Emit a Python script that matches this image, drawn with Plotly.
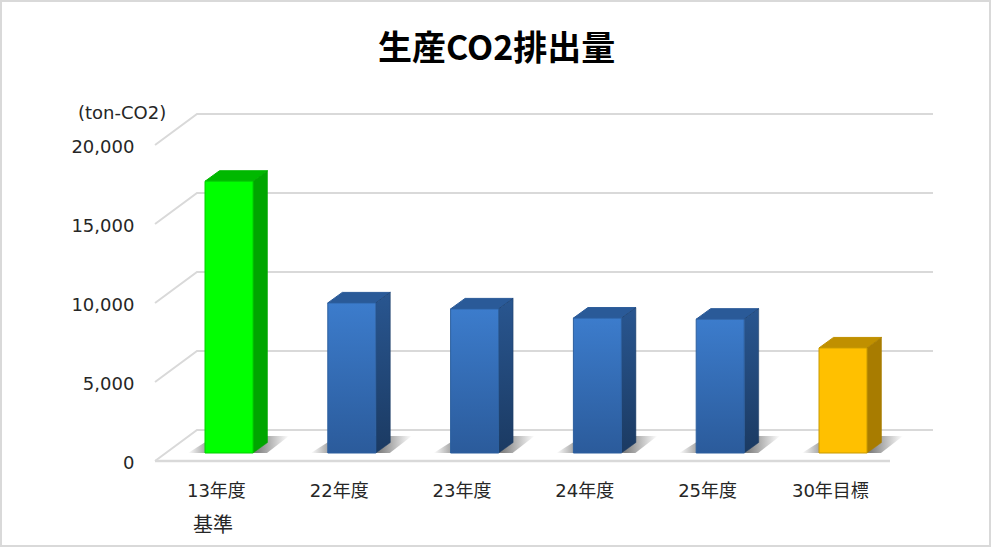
import plotly.graph_objects as go

categories = ["13年度", "22年度", "23年度", "24年度", "25年度", "30年目標"]
values = [17200, 9500, 9120, 8540, 8470, 6650]
y_ticks = [0, 5000, 10000, 15000, 20000]
y_tick_labels = ["0", "5,000", "10,000", "15,000", "20,000"]
title_text = "生産CO2排出量"
unit_text = "(ton-CO2)"
sub_label = "基準"

palette = {
    "green": dict(front=["#00FF00", "#00FF00"], side=["#00A600", "#00A600"], top="#00B800", edge="#00D000"),
    "blue": dict(front=["#3C7CCC", "#2B5B9B"], side=["#295690", "#1B3A62"], top="#2A5A98", edge="#2C5F9E"),
    "amber": dict(front=["#FFC000", "#FFC000"], side=["#A87C00", "#A87C00"], top="#C09000", edge="#C89A00"),
}
bar_colors = ["green", "blue", "blue", "blue", "blue", "amber"]

PX_X = 122.8            # pixels per category
PX_Y = 316 / 20000      # pixels per value unit
FONT = "DejaVu Sans, Noto Sans CJK JP"
TEXT = "#262626"
GRID = "#D9D9D9"

wall_dx = 42 / PX_X
wall_dy = 31 / PX_Y
bar_dx = 14.5 / PX_X
bar_dy = 10.5 / PX_Y
bar_left = 50 / PX_X
bar_w = 48 / PX_X
bar_base = 8 / PX_Y
x_end = 778 / PX_X
floor_end = 735 / PX_X
n = len(categories)

fig = go.Figure()


def poly(xs, ys, **kw):
    fig.add_trace(go.Scatter(x=xs, y=ys, mode="lines", hoverinfo="skip", showlegend=False, **kw))


# walls / gridlines
for v in y_ticks:
    poly([0, wall_dx, x_end], [v, v + wall_dy, v + wall_dy], line=dict(color=GRID, width=2))
poly([0, floor_end], [0, 0], line=dict(color=GRID, width=2.5))

# floor shadows
for i in range(n):
    l = i + bar_left
    xs = [l - 17 / PX_X, l + 62 / PX_X, l + 84 / PX_X, l + 10 / PX_X]
    ys = [bar_base, bar_base, bar_base + 17 / PX_Y, bar_base + 17 / PX_Y]
    poly(xs + xs[:1], ys + ys[:1], fill="toself", line=dict(width=0, color="#FFFFFF"),
         fillgradient=dict(type="horizontal", colorscale=[
             [0, "#FFFFFF"], [0.17, "#A8A8A8"], [0.68, "#808080"], [1, "#FFFFFF"]]))

# bars
for i, (v, c) in enumerate(zip(values, bar_colors)):
    p = palette[c]
    l = i + bar_left
    r = l + bar_w
    bot = bar_base
    top = bar_base + v
    # top face
    poly([l, r, r + bar_dx, l + bar_dx, l], [top, top, top + bar_dy, top + bar_dy, top],
         fill="toself", fillcolor=p["top"], line=dict(color=p["top"], width=1))
    # side face
    poly([r, r + bar_dx, r + bar_dx, r, r], [bot, bot + bar_dy, top + bar_dy, top, bot],
         fill="toself", line=dict(color=p["side"][1], width=0.5),
         fillgradient=dict(type="vertical", colorscale=[[0, p["side"][1]], [1, p["side"][0]]]))
    # front face
    poly([l, r, r, l, l], [bot, bot, top, top, bot],
         fill="toself", line=dict(color=p["edge"], width=1),
         fillgradient=dict(type="vertical", colorscale=[[0, p["front"][1]], [1, p["front"][0]]]))

annotations = [
    dict(text=title_text, xref="paper", yref="paper", x=(496 - 145) / 795, y=(465 - 45.5) / 365,
         xanchor="center", yanchor="middle", showarrow=False,
         font=dict(family="Noto Sans CJK JP", size=34, color="#000000", weight="bold")),
    dict(text=unit_text, xref="paper", yref="paper", x=(122 - 145) / 795, y=(465 - 113) / 365,
         xanchor="center", yanchor="middle", showarrow=False,
         font=dict(family=FONT, size=18, color=TEXT)),
    dict(text=sub_label, xref="x", yref="paper", x=0.47, y=(465 - 525) / 365,
         xanchor="center", yanchor="middle", showarrow=False,
         font=dict(family=FONT, size=20, color=TEXT)),
]

fig.update_layout(
    width=992, height=547,
    margin=dict(l=145, r=52, t=100, b=82),
    paper_bgcolor="#FFFFFF", plot_bgcolor="rgba(0,0,0,0)",
    showlegend=False,
    annotations=annotations,
    shapes=[dict(type="rect", xref="paper", yref="paper", x0=-144 / 795, x1=845 / 795,
                 y0=-81 / 365, y1=464 / 365, line=dict(color=GRID, width=2))],
    xaxis=dict(range=[-10 / PX_X, x_end + 7 / PX_X], tickmode="array",
               tickvals=[i + 0.5 for i in range(n)], ticktext=categories,
               showgrid=False, zeroline=False, showline=False,
               ticks="outside", ticklen=9, tickcolor="rgba(0,0,0,0)",
               tickfont=dict(family=FONT, size=18, color=TEXT)),
    yaxis=dict(range=[-4 / PX_Y, 361 / PX_Y], tickmode="array",
               tickvals=y_ticks, ticktext=y_tick_labels,
               showgrid=False, zeroline=False, showline=False,
               ticks="outside", ticklen=6, tickcolor="rgba(0,0,0,0)", ticklabelshift=2,
               tickfont=dict(family=FONT, size=18, color=TEXT)),
)

fig.write_html("out.html", config={"displayModeBar": False},
               post_script="document.body.style.margin='0';document.body.style.overflow='hidden';")
